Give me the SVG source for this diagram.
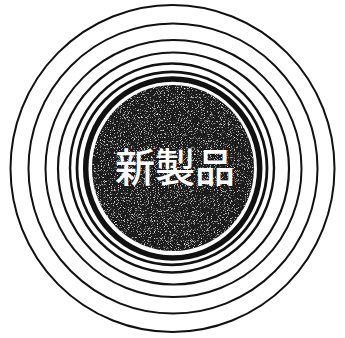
<svg xmlns="http://www.w3.org/2000/svg" width="345" height="338" viewBox="0 0 345 338">
  <style>
    .ring { fill: none; stroke: #111; }
    .label { fill: #fff; font-family: "Noto Sans CJK JP", "Noto Sans CJK SC", sans-serif; font-size: 40px; font-weight: 500; text-anchor: middle; }
  </style>
  <defs>
    <filter id="grain" x="0" y="0" width="100%" height="100%">
      <feTurbulence type="fractalNoise" baseFrequency="1.3" numOctaves="1" seed="7" result="n"/>
      <feColorMatrix in="n" type="matrix" values="0 0 0 0 1  0 0 0 0 1  0 0 0 0 1  4 0 0 0 -2.3" result="speck"/>
      <feComposite in="speck" in2="SourceAlpha" operator="in" result="clipped"/>
      <feMerge>
        <feMergeNode in="SourceGraphic"/>
        <feMergeNode in="clipped"/>
      </feMerge>
    </filter>
  </defs>
  <rect width="345" height="338" fill="#fff"/>
  <g id="rings">
    <ellipse class="ring" cx="172.5" cy="168.5" rx="162" ry="163.5" stroke-width="2"/>
    <ellipse class="ring" cx="173" cy="168.5" rx="144.5" ry="145" stroke-width="2"/>
    <ellipse class="ring" cx="173.5" cy="168.5" rx="128" ry="128.5" stroke-width="2"/>
    <ellipse class="ring" cx="173.5" cy="168.5" rx="115.5" ry="116" stroke-width="2.2"/>
    <ellipse class="ring" cx="172" cy="168" rx="102" ry="104.5" stroke-width="2.4"/>
    <ellipse class="ring" cx="172" cy="168.3" rx="95" ry="96.5" stroke-width="2.8"/>
    <ellipse class="ring" cx="172.7" cy="168.5" rx="87" ry="89.5" stroke-width="5.5"/>
  </g>
  <g id="core">
    <ellipse cx="173" cy="168" rx="81" ry="83" fill="#1a1a1a" filter="url(#grain)"/>
    <text class="label" x="175" y="182">新製品</text>
  </g>
</svg>
